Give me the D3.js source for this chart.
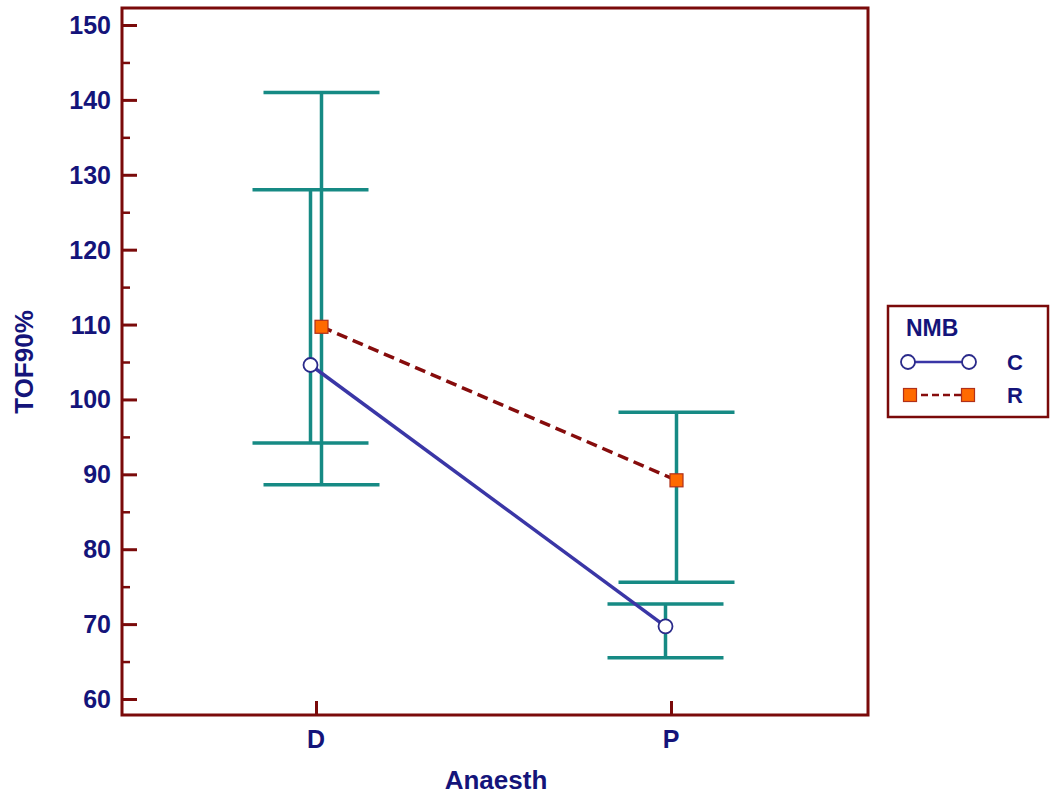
<!DOCTYPE html>
<html><head><meta charset="utf-8">
<script src="https://cdn.jsdelivr.net/npm/d3@7"></script>
<style>body{margin:0;background:#fff}svg{display:block}text{font-family:"Liberation Sans",Arial,sans-serif;font-weight:bold}</style>
</head><body><svg id="c" width="1051" height="794"></svg>
<script>
const categories = ["D", "P"];
const seriesNames = ["C", "R"];
const meanC = [104.6, 69.7];
const lowC = [94.2, 65.5];
const highC = [128.0, 72.7];
const meanR = [109.7, 89.2];
const lowR = [88.6, 75.6];
const highR = [141.0, 98.3];
const yTicks = [60, 70, 80, 90, 100, 110, 120, 130, 140, 150];
const yMinor = [65, 75, 85, 95, 105, 115, 125, 135, 145];

const navy = "#14147a", frameCol = "#7a0a0a", teal = "#168a84";
const svg = d3.select("#c");
const L = 122, R = 868, T = 8, B = 715;
const y = d3.scaleLinear().domain([60, 150]).range([699, 25]);
const x = d3.scalePoint().domain(categories).range([316, 671]);
const off = {C: -5.5, R: 5.5};

// frame
svg.append("rect").attr("x", L).attr("y", T).attr("width", R - L).attr("height", B - T)
  .attr("fill", "none").attr("stroke", frameCol).attr("stroke-width", 3);

// y axis
const yAxis = d3.axisRight(y).tickValues(yTicks).tickSize(15).tickFormat("");
const gy = svg.append("g").attr("transform", `translate(${L},0)`).call(yAxis);
gy.select(".domain").remove();
gy.selectAll("line").attr("stroke", frameCol).attr("stroke-width", 3);
const gyMin = svg.append("g").attr("transform", `translate(${L},0)`).call(d3.axisRight(y).tickValues(yMinor).tickSize(8).tickFormat(""));
gyMin.select(".domain").remove();
gyMin.selectAll("line").attr("stroke", frameCol).attr("stroke-width", 2.5);
svg.append("g").selectAll("text").data(yTicks).join("text")
  .attr("x", 111).attr("y", d => y(d)).attr("dy", "0.36em").attr("text-anchor", "end")
  .attr("font-size", 25).attr("fill", navy).text(d => d);

// x axis
const gx = svg.append("g").attr("transform", `translate(0,${B})`).call(d3.axisTop(x).tickSize(14).tickFormat(""));
gx.select(".domain").remove();
gx.selectAll("line").attr("stroke", frameCol).attr("stroke-width", 3);
svg.append("g").selectAll("text").data(categories).join("text")
  .attr("x", d => x(d)).attr("y", 748).attr("text-anchor", "middle")
  .attr("font-size", 25).attr("fill", navy).text(d => d);

// axis titles
svg.append("text").attr("x", 496).attr("y", 789).attr("text-anchor", "middle")
  .attr("font-size", 26).attr("fill", navy).text("Anaesth");
svg.append("text").attr("transform", "translate(33,362) rotate(-90)").attr("text-anchor", "middle")
  .attr("font-size", 26).attr("fill", navy).text("TOF90%");

const series = [
  {name: "C", mean: meanC, low: lowC, high: highC},
  {name: "R", mean: meanR, low: lowR, high: highR}
];
const cap = 58;
// error bars
series.forEach(s => {
  const g = svg.append("g").attr("stroke", teal).attr("stroke-width", 3.5);
  categories.forEach((c, i) => {
    const cx = x(c) + off[s.name];
    g.append("line").attr("x1", cx).attr("x2", cx).attr("y1", y(s.low[i])).attr("y2", y(s.high[i]));
    g.append("line").attr("x1", cx - cap).attr("x2", cx + cap).attr("y1", y(s.low[i])).attr("y2", y(s.low[i]));
    g.append("line").attr("x1", cx - cap).attr("x2", cx + cap).attr("y1", y(s.high[i])).attr("y2", y(s.high[i]));
  });
});

// lines
const line = name => d3.line().x((d, i) => x(categories[i]) + off[name]).y(d => y(d));
svg.append("path").datum(meanC).attr("d", line("C")).attr("fill", "none").attr("stroke", "#3a36a6").attr("stroke-width", 3.5);
svg.append("path").datum(meanR).attr("d", line("R")).attr("fill", "none").attr("stroke", "#860c0c").attr("stroke-width", 3.5).attr("stroke-dasharray", "11,6");

// markers
svg.append("g").selectAll("circle").data(meanC).join("circle")
  .attr("cx", (d, i) => x(categories[i]) + off.C).attr("cy", d => y(d)).attr("r", 7)
  .attr("fill", "#fff").attr("stroke", "#2a2a8a").attr("stroke-width", 1.8);
svg.append("g").selectAll("rect").data(meanR).join("rect")
  .attr("x", (d, i) => x(categories[i]) + off.R - 6.5).attr("y", d => y(d) - 6.5).attr("width", 13).attr("height", 13)
  .attr("fill", "#ff6a00").attr("stroke", "#b0301a").attr("stroke-width", 1.2);

// legend
const lg = svg.append("g");
lg.append("rect").attr("x", 888).attr("y", 306).attr("width", 160).attr("height", 111)
  .attr("fill", "#fff").attr("stroke", frameCol).attr("stroke-width", 2.5);
lg.append("text").attr("x", 906).attr("y", 336).attr("font-size", 23).attr("fill", navy).text("NMB");
lg.append("line").attr("x1", 908).attr("x2", 969).attr("y1", 362).attr("y2", 362).attr("stroke", "#3a36a6").attr("stroke-width", 2.5);
[908, 969].forEach(cx => lg.append("circle").attr("cx", cx).attr("cy", 362).attr("r", 7)
  .attr("fill", "#fff").attr("stroke", "#2a2a8a").attr("stroke-width", 1.8));
lg.append("line").attr("x1", 910).attr("x2", 968).attr("y1", 395).attr("y2", 395).attr("stroke", "#860c0c").attr("stroke-width", 2.5).attr("stroke-dasharray", "7,4");
[910, 968].forEach(cx => lg.append("rect").attr("x", cx - 6.5).attr("y", 388.5).attr("width", 13).attr("height", 13)
  .attr("fill", "#ff6a00").attr("stroke", "#b0301a").attr("stroke-width", 1.2));
lg.selectAll("text.s").data(seriesNames).join("text").attr("class", "s")
  .attr("x", 1007).attr("y", (d, i) => 362 + i * 33).attr("dy", "0.36em")
  .attr("font-size", 22).attr("fill", navy).text(d => d);
</script></body></html>
